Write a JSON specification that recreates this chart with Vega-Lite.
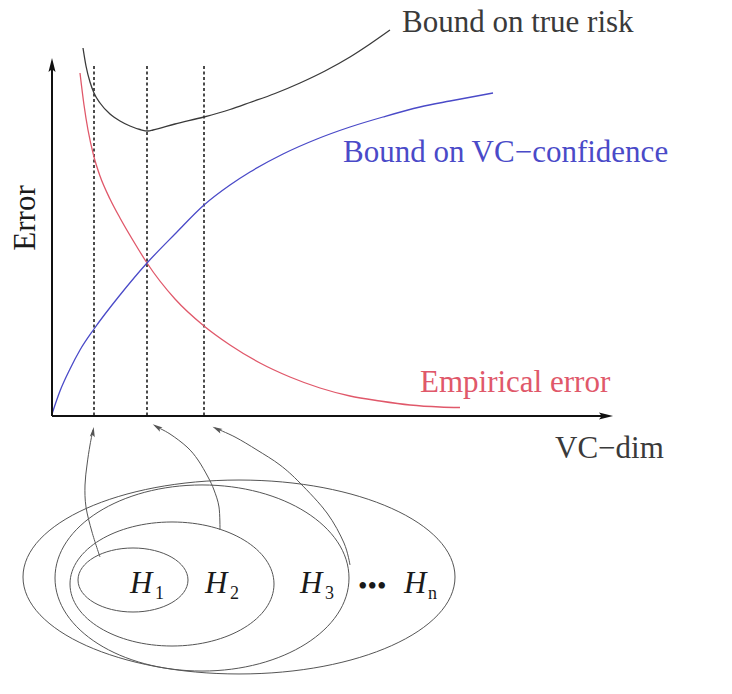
{
  "$schema": "https://vega.github.io/schema/vega-lite/v6.json",
  "width": 732,
  "height": 694,
  "autosize": {"type": "fit", "contains": "padding"},
  "padding": 0,
  "background": "white",
  "config": {"view": {"stroke": null}},
  "datasets": {
    "curves": [
      {"s": "risk", "i": 0, "x": 83, "y": 48}, {"s": "risk", "i": 1, "x": 86, "y": 66}, {"s": "risk", "i": 2, "x": 90, "y": 82},
      {"s": "risk", "i": 3, "x": 94, "y": 93}, {"s": "risk", "i": 4, "x": 100, "y": 103}, {"s": "risk", "i": 5, "x": 110, "y": 114},
      {"s": "risk", "i": 6, "x": 120, "y": 121}, {"s": "risk", "i": 7, "x": 130, "y": 126}, {"s": "risk", "i": 8, "x": 140, "y": 129.5},
      {"s": "risk", "i": 9, "x": 148, "y": 131}, {"s": "risk", "i": 10, "x": 153, "y": 130}, {"s": "risk", "i": 11, "x": 175, "y": 124},
      {"s": "risk", "i": 12, "x": 204, "y": 117}, {"s": "risk", "i": 13, "x": 230, "y": 109.5}, {"s": "risk", "i": 14, "x": 250, "y": 102.5},
      {"s": "risk", "i": 15, "x": 275, "y": 93.5}, {"s": "risk", "i": 16, "x": 300, "y": 83}, {"s": "risk", "i": 17, "x": 325, "y": 71},
      {"s": "risk", "i": 18, "x": 350, "y": 57}, {"s": "risk", "i": 19, "x": 370, "y": 44}, {"s": "risk", "i": 20, "x": 390, "y": 30},
      {"s": "emp", "i": 0, "x": 80, "y": 73}, {"s": "emp", "i": 1, "x": 84, "y": 105}, {"s": "emp", "i": 2, "x": 88, "y": 130},
      {"s": "emp", "i": 3, "x": 94, "y": 157}, {"s": "emp", "i": 4, "x": 100, "y": 176}, {"s": "emp", "i": 5, "x": 110, "y": 199},
      {"s": "emp", "i": 6, "x": 120, "y": 218}, {"s": "emp", "i": 7, "x": 137, "y": 247}, {"s": "emp", "i": 8, "x": 147, "y": 263},
      {"s": "emp", "i": 9, "x": 175, "y": 299}, {"s": "emp", "i": 10, "x": 204, "y": 326}, {"s": "emp", "i": 11, "x": 230, "y": 345},
      {"s": "emp", "i": 12, "x": 260, "y": 363}, {"s": "emp", "i": 13, "x": 290, "y": 377}, {"s": "emp", "i": 14, "x": 320, "y": 388},
      {"s": "emp", "i": 15, "x": 350, "y": 396}, {"s": "emp", "i": 16, "x": 380, "y": 401}, {"s": "emp", "i": 17, "x": 410, "y": 405},
      {"s": "emp", "i": 18, "x": 440, "y": 407}, {"s": "emp", "i": 19, "x": 460, "y": 407.5},
      {"s": "vc", "i": 0, "x": 52, "y": 414}, {"s": "vc", "i": 1, "x": 60, "y": 391}, {"s": "vc", "i": 2, "x": 70, "y": 369},
      {"s": "vc", "i": 3, "x": 80, "y": 350}, {"s": "vc", "i": 4, "x": 94, "y": 329}, {"s": "vc", "i": 5, "x": 120, "y": 295},
      {"s": "vc", "i": 6, "x": 147, "y": 263}, {"s": "vc", "i": 7, "x": 175, "y": 234}, {"s": "vc", "i": 8, "x": 204, "y": 205},
      {"s": "vc", "i": 9, "x": 230, "y": 185}, {"s": "vc", "i": 10, "x": 250, "y": 172}, {"s": "vc", "i": 11, "x": 283, "y": 154},
      {"s": "vc", "i": 12, "x": 317, "y": 139}, {"s": "vc", "i": 13, "x": 350, "y": 127}, {"s": "vc", "i": 14, "x": 383, "y": 117},
      {"s": "vc", "i": 15, "x": 420, "y": 107}, {"s": "vc", "i": 16, "x": 450, "y": 101}, {"s": "vc", "i": 17, "x": 493, "y": 93}
    ],
    "arrows": [
      {"a": "a1", "i": 0, "x": 100, "y": 557}, {"a": "a1", "i": 1, "x": 92, "y": 532}, {"a": "a1", "i": 2, "x": 86, "y": 507},
      {"a": "a1", "i": 3, "x": 85, "y": 485}, {"a": "a1", "i": 4, "x": 87, "y": 465}, {"a": "a1", "i": 5, "x": 90, "y": 445},
      {"a": "a1", "i": 6, "x": 93, "y": 430},
      {"a": "a2", "i": 0, "x": 220, "y": 530}, {"a": "a2", "i": 1, "x": 219, "y": 507}, {"a": "a2", "i": 2, "x": 214, "y": 490},
      {"a": "a2", "i": 3, "x": 208, "y": 477}, {"a": "a2", "i": 4, "x": 198, "y": 460}, {"a": "a2", "i": 5, "x": 187, "y": 447},
      {"a": "a2", "i": 6, "x": 170, "y": 434}, {"a": "a2", "i": 7, "x": 155, "y": 426},
      {"a": "a3", "i": 0, "x": 350, "y": 565}, {"a": "a3", "i": 1, "x": 344, "y": 543}, {"a": "a3", "i": 2, "x": 327, "y": 513},
      {"a": "a3", "i": 3, "x": 300, "y": 483}, {"a": "a3", "i": 4, "x": 280, "y": 465}, {"a": "a3", "i": 5, "x": 257, "y": 450},
      {"a": "a3", "i": 6, "x": 235, "y": 437}, {"a": "a3", "i": 7, "x": 215, "y": 428}
    ]
  },
  "layer": [
    {
      "data": {"values": [{"x": 94, "y": 66, "y2": 416}, {"x": 147, "y": 66, "y2": 416}, {"x": 204, "y": 66, "y2": 416}]},
      "mark": {"type": "rule", "stroke": "#111", "strokeWidth": 1.5, "strokeDash": [3, 2.5]},
      "encoding": {
        "x": {"field": "x", "type": "quantitative", "scale": {"domain": [0, 732], "nice": false, "zero": false}, "axis": null},
        "y": {"field": "y", "type": "quantitative", "scale": {"domain": [0, 694], "nice": false, "zero": false, "reverse": true}, "axis": null},
        "y2": {"field": "y2"}
      }
    },
    {
      "data": {"name": "curves"},
      "mark": {"type": "line", "interpolate": "monotone", "strokeWidth": 1.3},
      "encoding": {
        "x": {"field": "x", "type": "quantitative", "scale": {"domain": [0, 732], "nice": false, "zero": false}, "axis": null},
        "y": {"field": "y", "type": "quantitative", "scale": {"domain": [0, 694], "nice": false, "zero": false, "reverse": true}, "axis": null},
        "order": {"field": "i"},
        "color": {"field": "s", "type": "nominal", "scale": {"domain": ["risk", "vc", "emp"], "range": ["#3a3a3a", "#4a4ac8", "#e0586a"]}, "legend": null}
      }
    },
    {
      "data": {"values": [{"x": 52, "y": 416, "x2": 52, "y2": 62}, {"x": 52, "y": 416, "x2": 608, "y2": 416}]},
      "mark": {"type": "rule", "stroke": "#111", "strokeWidth": 2},
      "encoding": {
        "x": {"field": "x", "type": "quantitative", "scale": {"domain": [0, 732], "nice": false, "zero": false}, "axis": null},
        "y": {"field": "y", "type": "quantitative", "scale": {"domain": [0, 694], "nice": false, "zero": false, "reverse": true}, "axis": null},
        "x2": {"field": "x2"},
        "y2": {"field": "y2"}
      }
    },
    {
      "data": {"values": [{"x": 52, "y": 65}]},
      "mark": {"type": "point", "shape": "M 0 -1 L 0.5 1 L 0 0.6 L -0.5 1 Z", "filled": true, "color": "#111", "size": 200, "angle": 0, "opacity": 1},
      "encoding": {
        "x": {"field": "x", "type": "quantitative", "scale": {"domain": [0, 732], "nice": false, "zero": false}, "axis": null},
        "y": {"field": "y", "type": "quantitative", "scale": {"domain": [0, 694], "nice": false, "zero": false, "reverse": true}, "axis": null}
      }
    },
    {
      "data": {"values": [{"x": 606, "y": 416}]},
      "mark": {"type": "point", "shape": "M 0 -1 L 0.5 1 L 0 0.6 L -0.5 1 Z", "filled": true, "color": "#111", "size": 200, "angle": 90, "opacity": 1},
      "encoding": {
        "x": {"field": "x", "type": "quantitative", "scale": {"domain": [0, 732], "nice": false, "zero": false}, "axis": null},
        "y": {"field": "y", "type": "quantitative", "scale": {"domain": [0, 694], "nice": false, "zero": false, "reverse": true}, "axis": null}
      }
    },
    {
      "data": {"name": "arrows"},
      "mark": {"type": "line", "interpolate": "cardinal", "strokeWidth": 1, "stroke": "#555"},
      "encoding": {
        "x": {"field": "x", "type": "quantitative", "scale": {"domain": [0, 732], "nice": false, "zero": false}, "axis": null},
        "y": {"field": "y", "type": "quantitative", "scale": {"domain": [0, 694], "nice": false, "zero": false, "reverse": true}, "axis": null},
        "order": {"field": "i"},
        "detail": {"field": "a"}
      }
    },
    {
      "data": {"values": [{"x": 93, "y": 432}]},
      "mark": {"type": "point", "shape": "M 0 -1 L 0.5 1 L 0 0.6 L -0.5 1 Z", "filled": true, "color": "#555", "size": 100, "angle": 8, "opacity": 1},
      "encoding": {
        "x": {"field": "x", "type": "quantitative", "scale": {"domain": [0, 732], "nice": false, "zero": false}, "axis": null},
        "y": {"field": "y", "type": "quantitative", "scale": {"domain": [0, 694], "nice": false, "zero": false, "reverse": true}, "axis": null}
      }
    },
    {
      "data": {"values": [{"x": 157, "y": 427}]},
      "mark": {"type": "point", "shape": "M 0 -1 L 0.5 1 L 0 0.6 L -0.5 1 Z", "filled": true, "color": "#555", "size": 100, "angle": 302, "opacity": 1},
      "encoding": {
        "x": {"field": "x", "type": "quantitative", "scale": {"domain": [0, 732], "nice": false, "zero": false}, "axis": null},
        "y": {"field": "y", "type": "quantitative", "scale": {"domain": [0, 694], "nice": false, "zero": false, "reverse": true}, "axis": null}
      }
    },
    {
      "data": {"values": [{"x": 217, "y": 429}]},
      "mark": {"type": "point", "shape": "M 0 -1 L 0.5 1 L 0 0.6 L -0.5 1 Z", "filled": true, "color": "#555", "size": 100, "angle": 297, "opacity": 1},
      "encoding": {
        "x": {"field": "x", "type": "quantitative", "scale": {"domain": [0, 732], "nice": false, "zero": false}, "axis": null},
        "y": {"field": "y", "type": "quantitative", "scale": {"domain": [0, 694], "nice": false, "zero": false, "reverse": true}, "axis": null}
      }
    },
    {
      "data": {"values": [{"x": 133, "y": 580}]},
      "mark": {"type": "point", "shape": "M -1 0 A 1 0.582 0 1 1 1 0 A 1 0.582 0 1 1 -1 0 Z", "filled": false, "stroke": "#555", "strokeWidth": 1, "size": 12100, "opacity": 1},
      "encoding": {
        "x": {"field": "x", "type": "quantitative", "scale": {"domain": [0, 732], "nice": false, "zero": false}, "axis": null},
        "y": {"field": "y", "type": "quantitative", "scale": {"domain": [0, 694], "nice": false, "zero": false, "reverse": true}, "axis": null}
      }
    },
    {
      "data": {"values": [{"x": 172, "y": 584}]},
      "mark": {"type": "point", "shape": "M -1 0 A 1 0.608 0 1 1 1 0 A 1 0.608 0 1 1 -1 0 Z", "filled": false, "stroke": "#555", "strokeWidth": 1, "size": 41616, "opacity": 1},
      "encoding": {
        "x": {"field": "x", "type": "quantitative", "scale": {"domain": [0, 732], "nice": false, "zero": false}, "axis": null},
        "y": {"field": "y", "type": "quantitative", "scale": {"domain": [0, 694], "nice": false, "zero": false, "reverse": true}, "axis": null}
      }
    },
    {
      "data": {"values": [{"x": 202, "y": 578}]},
      "mark": {"type": "point", "shape": "M -1 0 A 1 0.633 0 1 1 1 0 A 1 0.633 0 1 1 -1 0 Z", "filled": false, "stroke": "#555", "strokeWidth": 1, "size": 86436, "opacity": 1},
      "encoding": {
        "x": {"field": "x", "type": "quantitative", "scale": {"domain": [0, 732], "nice": false, "zero": false}, "axis": null},
        "y": {"field": "y", "type": "quantitative", "scale": {"domain": [0, 694], "nice": false, "zero": false, "reverse": true}, "axis": null}
      }
    },
    {
      "data": {"values": [{"x": 239, "y": 577}]},
      "mark": {"type": "point", "shape": "M -1 0 A 1 0.449 0 1 1 1 0 A 1 0.449 0 1 1 -1 0 Z", "filled": false, "stroke": "#555", "strokeWidth": 1, "size": 186624, "opacity": 1},
      "encoding": {
        "x": {"field": "x", "type": "quantitative", "scale": {"domain": [0, 732], "nice": false, "zero": false}, "axis": null},
        "y": {"field": "y", "type": "quantitative", "scale": {"domain": [0, 694], "nice": false, "zero": false, "reverse": true}, "axis": null}
      }
    },
    {
      "data": {"values": [
        {"t": "Bound on true risk", "c": "k", "x": 402, "y": 32},
        {"t": "Bound on VC−confidence", "c": "b", "x": 343, "y": 162},
        {"t": "Empirical error", "c": "r", "x": 420, "y": 392},
        {"t": "VC−dim", "c": "k", "x": 555, "y": 458}
      ]},
      "mark": {"type": "text", "align": "left", "baseline": "alphabetic", "font": "Liberation Serif", "fontSize": 31},
      "encoding": {
        "x": {"field": "x", "type": "quantitative", "scale": {"domain": [0, 732], "nice": false, "zero": false}, "axis": null},
        "y": {"field": "y", "type": "quantitative", "scale": {"domain": [0, 694], "nice": false, "zero": false, "reverse": true}, "axis": null},
        "text": {"field": "t"},
        "color": {"field": "c", "type": "nominal", "scale": {"domain": ["k", "b", "r"], "range": ["#1a1a1a", "#2e2ea6", "#d23447"]}, "legend": null}
      }
    },
    {
      "data": {"values": [{"t": "Error", "x": 35, "y": 218}]},
      "mark": {"type": "text", "align": "center", "baseline": "alphabetic", "angle": 270, "font": "Liberation Serif", "fontSize": 31, "color": "#1a1a1a"},
      "encoding": {
        "x": {"field": "x", "type": "quantitative", "scale": {"domain": [0, 732], "nice": false, "zero": false}, "axis": null},
        "y": {"field": "y", "type": "quantitative", "scale": {"domain": [0, 694], "nice": false, "zero": false, "reverse": true}, "axis": null},
        "text": {"field": "t"}
      }
    },
    {
      "data": {"values": [{"t": "H", "x": 130, "y": 593}, {"t": "H", "x": 205, "y": 593}, {"t": "H", "x": 300, "y": 593}, {"t": "H", "x": 404, "y": 593}]},
      "mark": {"type": "text", "align": "left", "baseline": "alphabetic", "font": "Liberation Serif", "fontStyle": "italic", "fontSize": 31, "color": "#1a1a1a"},
      "encoding": {
        "x": {"field": "x", "type": "quantitative", "scale": {"domain": [0, 732], "nice": false, "zero": false}, "axis": null},
        "y": {"field": "y", "type": "quantitative", "scale": {"domain": [0, 694], "nice": false, "zero": false, "reverse": true}, "axis": null},
        "text": {"field": "t"}
      }
    },
    {
      "data": {"values": [{"t": "1", "x": 155, "y": 599}, {"t": "2", "x": 230, "y": 599}, {"t": "3", "x": 325, "y": 599}, {"t": "n", "x": 428, "y": 599}]},
      "mark": {"type": "text", "align": "left", "baseline": "alphabetic", "font": "Liberation Serif", "fontSize": 18, "color": "#1a1a1a"},
      "encoding": {
        "x": {"field": "x", "type": "quantitative", "scale": {"domain": [0, 732], "nice": false, "zero": false}, "axis": null},
        "y": {"field": "y", "type": "quantitative", "scale": {"domain": [0, 694], "nice": false, "zero": false, "reverse": true}, "axis": null},
        "text": {"field": "t"}
      }
    },
    {
      "data": {"values": [{"t": "•••", "x": 358, "y": 595}]},
      "mark": {"type": "text", "align": "left", "baseline": "alphabetic", "font": "Liberation Serif", "fontSize": 27, "color": "#1a1a1a"},
      "encoding": {
        "x": {"field": "x", "type": "quantitative", "scale": {"domain": [0, 732], "nice": false, "zero": false}, "axis": null},
        "y": {"field": "y", "type": "quantitative", "scale": {"domain": [0, 694], "nice": false, "zero": false, "reverse": true}, "axis": null},
        "text": {"field": "t"}
      }
    }
  ]
}
